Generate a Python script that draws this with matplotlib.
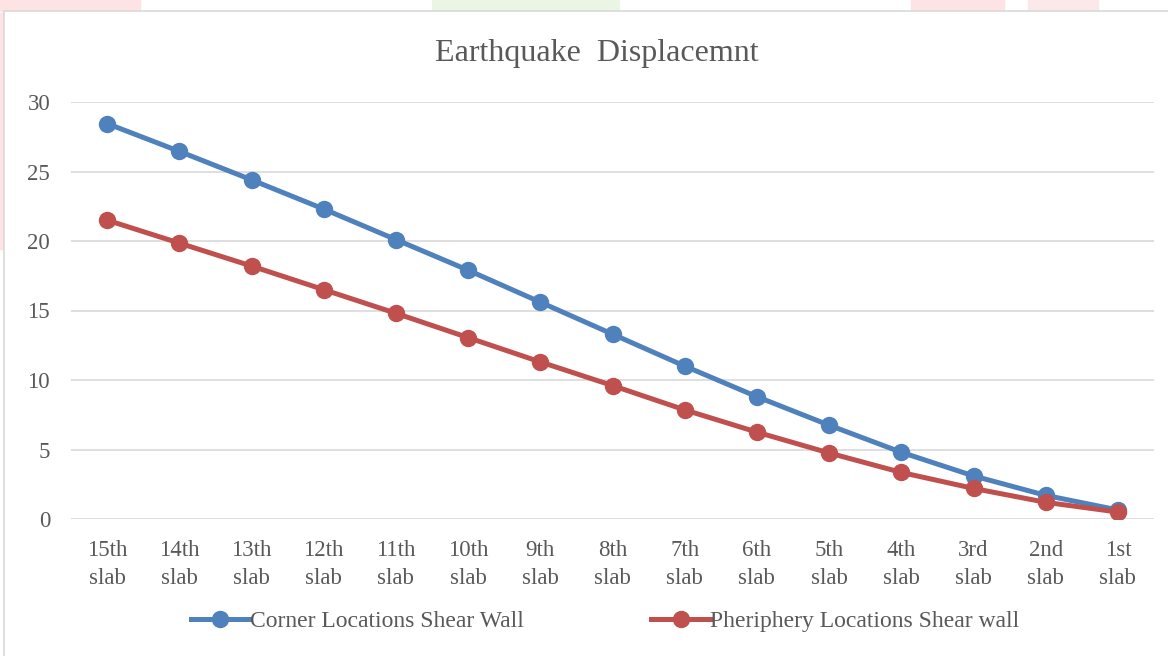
import matplotlib.pyplot as plt
from matplotlib.patches import Rectangle
import numpy as np

# storey labels, top slab first
slabs = ['15th\nslab', '14th\nslab', '13th\nslab', '12th\nslab', '11th\nslab',
         '10th\nslab', '9th\nslab', '8th\nslab', '7th\nslab', '6th\nslab',
         '5th\nslab', '4th\nslab', '3rd\nslab', '2nd\nslab', '1st\nslab']
corner = [28.45, 26.45, 24.4, 22.3, 20.1, 17.9, 15.6, 13.3, 11.0, 8.8,
          6.75, 4.8, 3.1, 1.7, 0.65]
periphery = [21.5, 19.85, 18.2, 16.5, 14.8, 13.05, 11.3, 9.6, 7.85, 6.25,
             4.75, 3.35, 2.2, 1.2, 0.5]
yticks = [0, 5, 10, 15, 20, 25, 30]

txt = '#595959'
plt.rcParams['font.family'] = ['Liberation Serif', 'DejaVu Serif']

fig = plt.figure(figsize=(11.68, 6.56), dpi=100)

# faint bleed of the page behind the chart box
for x0, w, c in [(0.0, 0.12, '#fde3e3'), (0.37, 0.16, '#eaf6e3'),
                 (0.78, 0.08, '#fde3e3'), (0.88, 0.06, '#fbe9e9')]:
    fig.patches.append(Rectangle((x0, 1 - 11 / 656), w, 11 / 656,
                                 transform=fig.transFigure, color=c, zorder=-2))
fig.patches.append(Rectangle((0, 0.62), 4 / 1168, 0.36, transform=fig.transFigure,
                             color='#fde3e3', zorder=-2))
fig.patches.append(Rectangle((4 / 1168, -0.05), 1.0, 1.05 - 11 / 656,
                             transform=fig.transFigure, facecolor='white',
                             edgecolor='#d9d9d9', lw=1.2, zorder=-1))

ax = fig.add_axes([71 / 1168, 1 - 519 / 656, (1154 - 71) / 1168, (519 - 102) / 656])
ax.set_facecolor('none')
x = np.arange(len(slabs))

ax.plot(x, corner, color='#4f81bd', lw=3.6, marker='o', ms=11.5,
        label='Corner Locations Shear Wall', zorder=3)
ax.plot(x, periphery, color='#c0504d', lw=3.6, marker='o', ms=11.5,
        label='Pheriphery Locations Shear wall', zorder=3)

ax.set_xlim(-0.5, len(slabs) - 0.5)
ax.set_ylim(0, 30)
ax.set_yticks(yticks)
ax.set_xticks(x)
ax.set_xticklabels(slabs, linespacing=1.45)
ax.grid(axis='y', color='#d9d9d9', lw=1.2)
ax.set_axisbelow(True)
for s in ax.spines.values():
    s.set_visible(False)
ax.tick_params(length=0, labelsize=16.5, colors=txt, pad=15)
ax.tick_params(axis='y', pad=15)

fig.text(597 / 1168, 1 - 53 / 656, 'Earthquake  Displacemnt', ha='center',
         va='center', fontsize=23, color=txt)

fig.legend(loc='center', bbox_to_anchor=(605 / 1168, 1 - 621 / 656), ncol=2,
           frameon=False, fontsize=17, handlelength=2.5, handletextpad=0.0,
           columnspacing=5.4, labelcolor=txt)

fig.savefig('out.png', dpi=100)
